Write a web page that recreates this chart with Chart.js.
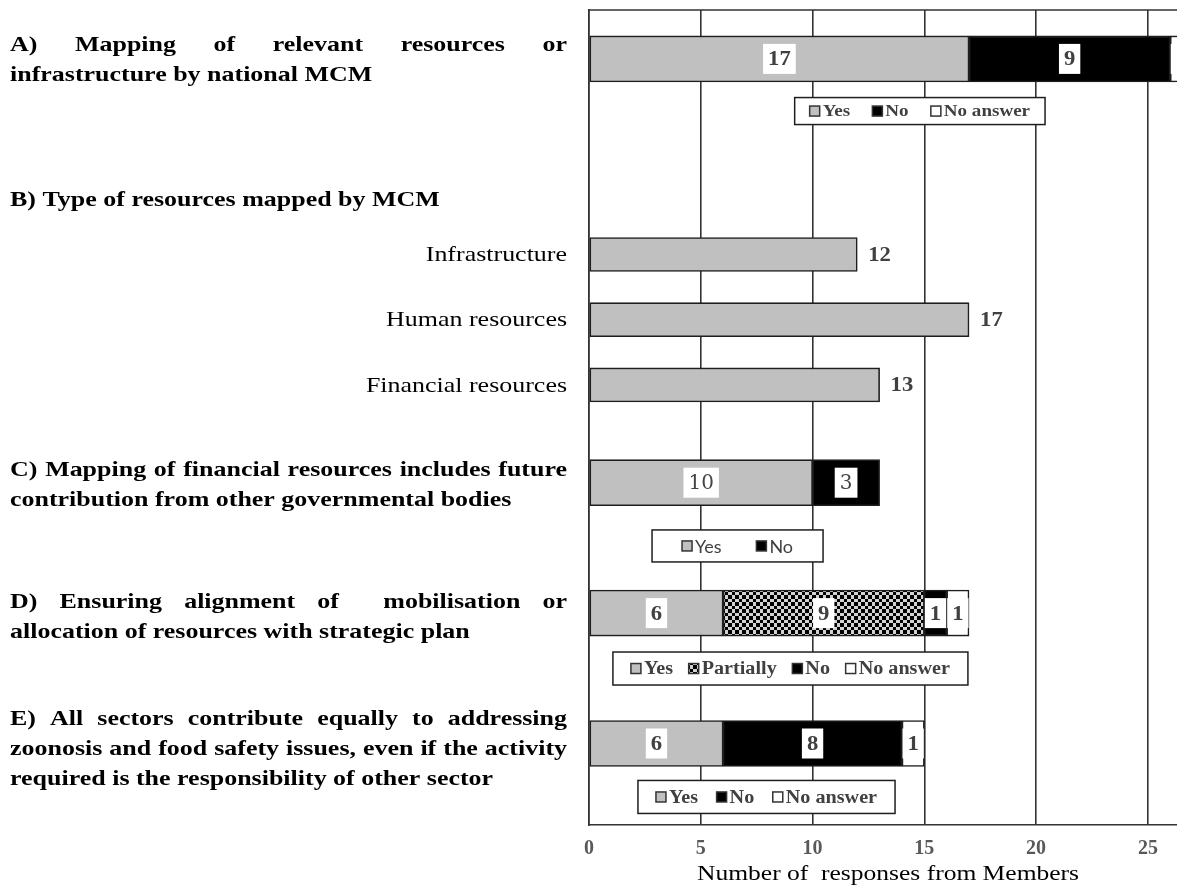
<!DOCTYPE html>
<html>
<head>
<meta charset="utf-8">
<script src="https://cdn.jsdelivr.net/npm/chart.js@4/dist/chart.umd.min.js"></script>
<style>
  html, body { margin: 0; padding: 0; background: #fff; overflow: hidden; }
  canvas { display: block; }
</style>
</head>
<body>
<canvas id="chart" width="1200" height="890"></canvas>
<script>
// Rows of the vertical category axis; blank rows leave room for headings and legends
const categories = ['', 'A', '', '', '', '', '', 'Infrastructure', '', 'Human resources', '', 'Financial resources',
  '', '', 'C', '', '', '', 'D', '', '', '', 'E', '', ''];

// Survey answers per question
const questions = ['A', 'C', 'D', 'E'];
const yesCounts = [17, 10, 6, 6];
const partiallyCounts = [null, null, 9, null];
const noCounts = [9, 3, 1, 8];
const noAnswerCounts = [1, null, 1, 1];

// Question B: type of resources mapped
const resourceTypes = ['Infrastructure', 'Human resources', 'Financial resources'];
const resourceCounts = [12, 17, 13];

const xTickValues = [0, 5, 10, 15, 20, 25];
const xAxisTitle = 'Number of  responses from Members';

// Question headings drawn in the left margin (row = position on the category axis)
const headings = [
  { row: 1.05, lines: ['A) Mapping of relevant resources or', 'infrastructure by national MCM'] },
  { row: 5.35, lines: ['B) Type of resources mapped by MCM'] },
  { row: 14.07, lines: ['C) Mapping of financial resources includes future', 'contribution from other governmental bodies'] },
  { row: 18.13, lines: ['D) Ensuring alignment of  mobilisation or', 'allocation of resources with strategic plan'] },
  { row: 22.17, lines: ['E) All sectors contribute equally to addressing', 'zoonosis and food safety issues, even if the activity', 'required is the responsibility of other sector'] }
];

// Per-question legends (row on category axis, horizontal extent in axis units, inner side margin)
const legendBoxes = [
  { row: 2.6, from: 9.2, to: 20.4, height: 27, items: ['Yes', 'No', 'No answer'], font: 'bold 17px "Liberation Serif"', margin: 15 },
  { row: 15.94, from: 2.82, to: 10.47, height: 32, items: ['Yes', 'No'], font: '18px Lato', margin: 30 },
  { row: 19.7, from: 1.07, to: 16.95, height: 33, items: ['Yes', 'Partially', 'No', 'No answer'], font: 'bold 18px "Liberation Serif"', margin: 18 },
  { row: 23.64, from: 2.19, to: 13.69, height: 33, items: ['Yes', 'No', 'No answer'], font: 'bold 18px "Liberation Serif"', margin: 18 }
];

// Serif lettering is set slightly wide
const STRETCH = 1.18;

const canvas = document.getElementById('chart');
const ctx2d = canvas.getContext('2d');

// Black / light-grey checkerboard for "Partially"
function makeChecker() {
  const c = document.createElement('canvas');
  c.width = 7; c.height = 7;
  const g = c.getContext('2d');
  g.fillStyle = '#d2d2d2';
  g.fillRect(0, 0, 7, 7);
  g.fillStyle = '#000';
  g.fillRect(0, 0, 4, 4);
  g.fillRect(4, 4, 3, 3);
  return ctx2d.createPattern(c, 'repeat');
}
const checker = makeChecker();

const byQuestion = vals => categories.map(c => {
  const i = questions.indexOf(c);
  return i < 0 ? null : vals[i];
});
const byType = vals => categories.map(c => {
  const i = resourceTypes.indexOf(c);
  return i < 0 ? null : vals[i];
});

const GREY = '#c0c0c0';
const EDGE = '#1e1e1e';
const seriesColours = { 'Yes': GREY, 'Partially': checker, 'No': '#000000', 'No answer': '#ffffff' };

const barCommon = { borderColor: EDGE, borderWidth: 1.6, borderSkipped: false, barThickness: 46, stack: 'all' };

const datasets = [
  Object.assign({ label: 'Yes', data: byQuestion(yesCounts), backgroundColor: GREY }, barCommon),
  Object.assign({ label: 'Partially', data: byQuestion(partiallyCounts), backgroundColor: checker }, barCommon),
  Object.assign({ label: 'No', data: byQuestion(noCounts), backgroundColor: '#000000' }, barCommon),
  Object.assign({ label: 'No answer', data: byQuestion(noAnswerCounts), backgroundColor: '#ffffff' }, barCommon),
  Object.assign({ label: 'Resources', data: byType(resourceCounts), backgroundColor: GREY, outside: true }, barCommon, { barThickness: 34 })
];

// Draws text widened horizontally by STRETCH
function wideText(ctx, text, x, y, align, k) {
  const s = k || STRETCH;
  ctx.save();
  ctx.translate(x, y);
  ctx.scale(s, 1);
  ctx.textAlign = align;
  ctx.fillText(text, 0, 0);
  ctx.restore();
}
const wideWidth = (ctx, text, k) => ctx.measureText(text).width * (k || STRETCH);

// Value labels: white boxes inside segments, plain text after single bars
const valueLabels = {
  id: 'valueLabels',
  afterDatasetsDraw(chart) {
    const ctx = chart.ctx;
    ctx.save();
    ctx.textBaseline = 'middle';
    chart.data.datasets.forEach((ds, di) => {
      const meta = chart.getDatasetMeta(di);
      meta.data.forEach((el, i) => {
        const v = ds.data[i];
        if (v == null) return;
        const p = el.getProps(['x', 'y', 'base'], true);
        const t = String(v);
        if (ds.outside) {
          ctx.font = 'bold 21px "Liberation Serif"';
          ctx.fillStyle = '#404040';
          wideText(ctx, t, p.x + 11, p.y + 1, 'left', 1.08);
          return;
        }
        const isC = categories[i] === 'C';
        ctx.font = isC ? '20px "DejaVu Serif"' : 'bold 21px "Liberation Serif"';
        const w = wideWidth(ctx, t, isC ? 1 : 1.08);
        const bw = w + 10, bh = 30;
        const cx = (p.x + p.base) / 2;
        ctx.fillStyle = '#ffffff';
        ctx.fillRect(cx - bw / 2, p.y - bh / 2, bw, bh);
        ctx.fillStyle = isC ? '#444444' : '#404040';
        wideText(ctx, t, cx, p.y + 1, 'center', isC ? 1 : 1.08);
      });
    });
    ctx.restore();
  }
};

// Headings (justified), resource-type labels and axis title
const textLayer = {
  id: 'textLayer',
  afterDraw(chart) {
    const ctx = chart.ctx;
    const yScale = chart.scales.y;
    const area = chart.chartArea;
    const left = 10, right = 567, lineH = 30;
    ctx.save();
    ctx.textBaseline = 'middle';
    ctx.fillStyle = '#000';
    ctx.font = 'bold 22px "Liberation Serif"';
    headings.forEach(h => {
      const cy = yScale.getPixelForValue(h.row);
      const top = cy - (h.lines.length - 1) * lineH / 2;
      h.lines.forEach((line, li) => {
        const y = top + li * lineH;
        if (li === h.lines.length - 1) { wideText(ctx, line, left, y, 'left'); return; }
        const words = line.split(' ');
        const wordsW = words.reduce((s, w) => s + wideWidth(ctx, w), 0);
        const gap = (right - left - wordsW) / (words.length - 1);
        let x = left;
        words.forEach(w => { wideText(ctx, w, x, y, 'left'); x += wideWidth(ctx, w) + gap; });
      });
    });
    // category labels of question B, right-aligned against the axis
    ctx.font = '22px "Liberation Serif"';
    categories.forEach((c, i) => {
      if (!resourceTypes.includes(c)) return;
      wideText(ctx, c, area.left - 22, yScale.getPixelForValue(i) + 1, 'right');
    });
    // x-axis title
    ctx.font = '22px "Liberation Serif"';
    wideText(ctx, xAxisTitle, (area.left + area.right) / 2, 874, 'center', 1.16);
    ctx.restore();
  }
};

// Legend boxes under each question's bar
const legendDraw = {
  id: 'legendDraw',
  afterDraw(chart) {
    const ctx = chart.ctx;
    const xs = chart.scales.x, ys = chart.scales.y;
    ctx.save();
    ctx.textBaseline = 'middle';
    legendBoxes.forEach(b => {
      const x0 = xs.getPixelForValue(b.from), x1 = xs.getPixelForValue(b.to);
      const cy = ys.getPixelForValue(b.row);
      ctx.fillStyle = '#fff';
      ctx.fillRect(x0, cy - b.height / 2, x1 - x0, b.height);
      ctx.strokeStyle = EDGE;
      ctx.lineWidth = 1.5;
      ctx.strokeRect(x0, cy - b.height / 2, x1 - x0, b.height);
      ctx.font = b.font;
      const icon = 10, iconGap = 3;
      const k = b.font.indexOf('Serif') >= 0 ? 1.12 : 1;
      const widths = b.items.map(t => icon + iconGap + wideWidth(ctx, t, k));
      const sum = widths.reduce((s, w) => s + w, 0);
      const gap = (x1 - x0 - 2 * b.margin - sum) / (b.items.length - 1);
      let x = x0 + b.margin;
      b.items.forEach((t, i) => {
        ctx.fillStyle = seriesColours[t];
        ctx.fillRect(x, cy - icon / 2, icon, icon);
        ctx.strokeStyle = '#333';
        ctx.lineWidth = 1.5;
        ctx.strokeRect(x, cy - icon / 2, icon, icon);
        ctx.fillStyle = '#404040';
        wideText(ctx, t, x + icon + iconGap, cy + 1, 'left', k);
        x += widths[i] + gap;
      });
    });
    ctx.restore();
  }
};

// Top and right edges of the plot frame
const frameEdges = {
  id: 'frameEdges',
  beforeDatasetsDraw(chart) {
    const { ctx, chartArea } = chart;
    ctx.save();
    ctx.strokeStyle = '#333';
    ctx.lineWidth = 1.5;
    ctx.beginPath();
    ctx.moveTo(chartArea.left, chartArea.top);
    ctx.lineTo(chart.width, chartArea.top);
    ctx.moveTo(chartArea.right, chartArea.top);
    ctx.lineTo(chartArea.right, chartArea.bottom);
    ctx.stroke();
    ctx.restore();
  }
};

new Chart(canvas, {
  type: 'bar',
  data: { labels: categories, datasets },
  plugins: [frameEdges, valueLabels, legendDraw, textLayer],
  options: {
    responsive: false,
    animation: false,
    indexAxis: 'y',
    layout: { padding: { top: 10, right: 13, left: 0, bottom: 0 } },
    plugins: { legend: { display: false }, tooltip: { enabled: false } },
    scales: {
      x: {
        type: 'linear',
        stacked: true,
        min: 0,
        max: 26.75,
        afterBuildTicks: s => { s.ticks = xTickValues.map(v => ({ value: v })); },
        afterFit: s => { s.height = 65; s.paddingLeft = 0; s.paddingRight = 0; },
        ticks: {
          padding: 12,
          color: '#595959',
          font: { family: 'Liberation Serif', size: 20, weight: 'bold' }
        },
        grid: { color: '#333', lineWidth: 1.6, drawTicks: false },
        border: { display: true, color: '#333', width: 1.6 }
      },
      y: {
        type: 'category',
        stacked: true,
        offset: true,
        afterFit: s => { s.width = 589; s.paddingTop = 0; s.paddingBottom = 0; },
        ticks: { display: false },
        grid: { display: false, drawTicks: false },
        border: { display: true, color: '#333', width: 1.6 }
      }
    }
  }
});
</script>
</body>
</html>
